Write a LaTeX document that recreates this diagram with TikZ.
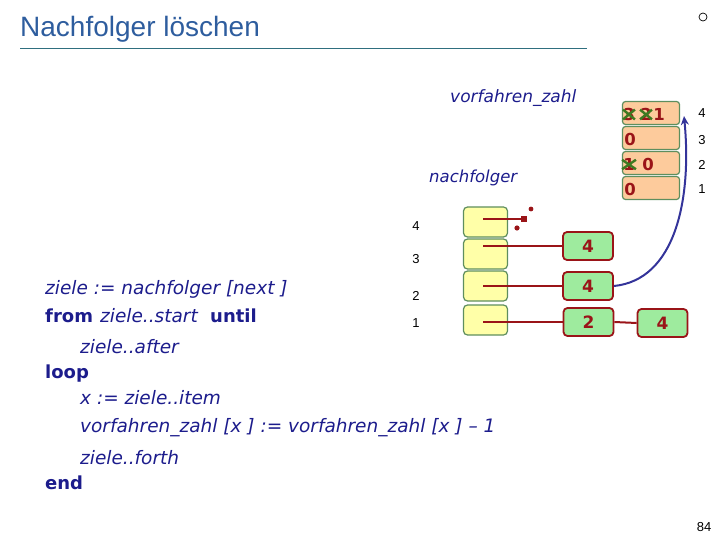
\documentclass[tikz,border=0pt]{standalone}
\usepackage{fontspec}
\setmainfont{Liberation Sans}
\newfontfamily\codefont{DejaVu Sans}
\usetikzlibrary{arrows.meta}
\definecolor{titleblue}{HTML}{2E5D9E}
\definecolor{ruleteal}{HTML}{2F6F7F}
\definecolor{codeblue}{HTML}{1C1C8C}
\definecolor{peach}{HTML}{FDCB9C}
\definecolor{boxgreen}{HTML}{5E8E5E}
\definecolor{darkred}{HTML}{9A1418}
\definecolor{xgreen}{HTML}{3E7A22}
\definecolor{paleyellow}{HTML}{FFFFA8}
\definecolor{lightgreen}{HTML}{9EEB9E}
\definecolor{arrowblue}{HTML}{34349A}
\tikzset{
  vbox/.style={draw=boxgreen, line width=1.2pt, fill=peach, rounded corners=3pt, minimum width=57pt, minimum height=23pt, inner sep=0pt},
  nbox/.style={draw=boxgreen, line width=1.2pt, fill=paleyellow, rounded corners=4pt, minimum width=44pt, minimum height=30pt, inner sep=0pt},
  gbox/.style={draw=darkred, line width=1.8pt, fill=lightgreen, rounded corners=4pt, minimum width=50pt, minimum height=28pt, inner sep=0pt, text=darkred, font=\codefont\bfseries\fontsize{17}{17}\selectfont},
  dig/.style={text=darkred, font=\codefont\bfseries\fontsize{16.5}{16.5}\selectfont, inner sep=0pt},
  idx/.style={font=\fontsize{13}{13}\selectfont, inner sep=0pt},
  code/.style={anchor=base west, text=codeblue, font=\codefont\itshape\fontsize{18.5}{18.5}\selectfont, inner sep=0pt},
  kw/.style={anchor=base west, text=codeblue, font=\codefont\bfseries\fontsize{18}{18}\selectfont, inner sep=0pt},
  link/.style={draw=darkred, line width=2pt},
  xmark/.style={draw=xgreen, line width=2.4pt},
}
\begin{document}
\begin{tikzpicture}[x=1pt,y=-1pt]
\useasboundingbox (0,0) rectangle (720,540);
% title
\node[anchor=base west, text=titleblue, font=\fontsize{28}{28}\selectfont, inner sep=0pt] (title) at (20,37) {Nachfolger löschen};
\draw[ruleteal, line width=0.8pt] (20,48) -- (587,48);
\node[draw, circle, minimum size=8pt, inner sep=0pt, line width=0.7pt] (logo) at (703,17) {};

% vorfahren_zahl array
\node[vbox] (v4) at (651,113) {};
\node[vbox] (v3) at (651,138) {};
\node[vbox] (v2) at (651,163) {};
\node[vbox] (v1) at (651,188) {};
\node[idx] (vi4) at (702,113) {4};
\node[idx] (vi3) at (702,140) {3};
\node[idx] (vi2) at (702,165) {2};
\node[idx] (vi1) at (702,189) {1};
% contents
\node[dig] (d43) at (629,114) {3};
\draw[xmark] ([shift={(0,2)}]d43.north west) -- ([shift={(0,-1)}]d43.south east) ([shift={(0,2)}]d43.north east) -- ([shift={(0,-1)}]d43.south west);
\node[dig] (d42) at (646,114) {2};
\draw[xmark] ([shift={(0,2)}]d42.north west) -- ([shift={(0,-1)}]d42.south east) ([shift={(0,2)}]d42.north east) -- ([shift={(0,-1)}]d42.south west);
\node[dig] (d41) at (659,114) {1};
\node[dig] (d30) at (630,139) {0};
\node[dig] (d21) at (629,164) {1};
\draw[xmark] ([shift={(-1,2)}]d21.north west) -- ([shift={(1,-1)}]d21.south east) ([shift={(1,2)}]d21.north east) -- ([shift={(-1,-1)}]d21.south west);
\node[dig] (d20) at (648,164) {0};
\node[dig] (d10) at (630,189) {0};

\node[anchor=base west, text=codeblue, font=\codefont\itshape\fontsize{17}{17}\selectfont, inner sep=0pt] (vlab) at (450,103) {vorfahren\_zahl};
\node[anchor=base west, text=codeblue, font=\codefont\itshape\fontsize{16.5}{16.5}\selectfont, inner sep=0pt] (nlab) at (429,183) {nachfolger};

% nachfolger array
\node[nbox] (n4) at (485.5,222) {};
\node[nbox] (n3) at (485.5,254) {};
\node[nbox] (n2) at (485.5,286) {};
\node[nbox] (n1) at (485.5,320) {};
\node[idx] (ni4) at (416,226) {4};
\node[idx] (ni3) at (416,259) {3};
\node[idx] (ni2) at (416,296) {2};
\node[idx] (ni1) at (416,323) {1};

% void marker
\coordinate (vend) at (524,219);
\draw[link] (483,219) -- (vend);
\fill[darkred] (521,216) rectangle (527,222);
\fill[darkred] (531,209) circle (2.4pt);
\fill[darkred] (517,228) circle (2.6pt);

% linked lists
\node[gbox] (g3) at (588,246) {4};
\node[gbox] (g2) at (588,286) {4};
\node[gbox] (g1) at (588.5,322) {2};
\node[gbox] (g1b) at (662.5,323) {4};
\draw[link] (483,246) -- (g3.west);
\draw[link] (483,286) -- (g2.west);
\draw[link] (483,322) -- (g1.west);
\draw[link] (g1.east) -- (g1b.west);

% blue arrow
\draw[arrowblue, line width=2pt, -{Stealth[length=9pt,width=8pt]}] (g2.east) .. controls (675,280) and (692,200) .. (684,116);

% code
\node[code] (c1) at (45,294) {ziele := nachfolger [next ]};
\node[kw] (c2a) at (45,322) {from};
\node[code] (c2b) at (100,322) {ziele..start};
\node[kw] (c2c) at (210,322) {until};
\node[code] (c3) at (80,353) {ziele..after};
\node[kw] (c4) at (45,378) {loop};
\node[code] (c5) at (80,404) {x := ziele..item};
\node[code] (c6) at (80,432) {vorfahren\_zahl [x ] := vorfahren\_zahl [x ] – 1};
\node[code] (c7) at (80,464) {ziele..forth};
\node[kw] (c8) at (45,489) {end};

\node[idx] (page) at (704,527) {84};
\end{tikzpicture}
\end{document}
